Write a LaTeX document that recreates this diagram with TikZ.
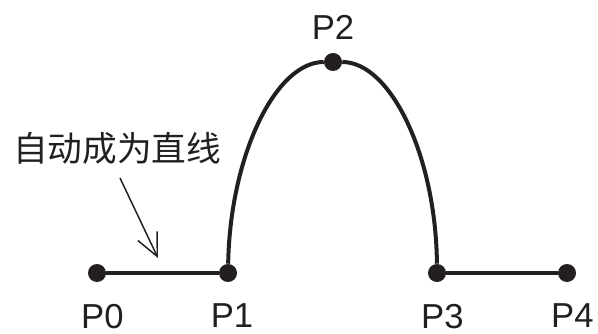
\documentclass[tikz,border=0pt]{standalone}
\usepackage{fontspec}
\setmainfont{Liberation Sans}
\newfontfamily\cjk{Noto Sans CJK SC}
\usetikzlibrary{arrows.meta, positioning}
\definecolor{inkBlack}{HTML}{231F20}

\begin{document}
\begin{tikzpicture}[x=0.75pt, y=-0.75pt,
    ptdot/.style={circle, fill=inkBlack, inner sep=0pt, minimum size=13.5pt},
    ptlabel/.style={font=\fontsize{26}{28}\selectfont, text=inkBlack,
                    inner sep=0pt},
    seg/.style={line width=2.5pt, draw=inkBlack},
    arcseg/.style={line width=3pt, draw=inkBlack},
    pointer/.style={-{Straight Barb[length=17pt, width=16pt]},
                    line width=1.1pt, draw=inkBlack},
  ]
    \useasboundingbox (0,0) rectangle (598,334);

    \node[ptdot] (p0) at (97,273) {};
    \node[ptdot] (p1) at (228,273) {};
    \node[ptdot] (p2) at (333,62) {};
    \node[ptdot] (p3) at (437,273) {};
    \node[ptdot] (p4) at (567,273) {};

    \node[ptlabel, below=16pt of p0, xshift=4pt] (l0) {P0};
    \node[ptlabel, below=16pt of p1, xshift=3pt] (l1) {P1};
    \node[ptlabel, above=10pt of p2] (l2) {P2};
    \node[ptlabel, below=16pt of p3, xshift=4pt] (l3) {P3};
    \node[ptlabel, below=16pt of p4, xshift=4pt] (l4) {P4};

    \draw[seg] (p0) -- (p1);
    \draw[arcseg] (p1) .. controls (230,157) and (275,62) .. (p2);
    \draw[arcseg] (p2) .. controls (391,62) and (436,157) .. (p3);
    \draw[seg] (p3) -- (p4);

    % note with its arrow
    \node[font=\cjk\fontsize{26}{28}\selectfont, text=inkBlack,
          inner sep=0pt] (note) at (117,148) {自动成为直线};
    \coordinate (tail) at (120,178);
    \coordinate (tip) at (158,258);
    \draw[pointer] (tail) -- (tip);
  \end{tikzpicture}
\end{document}
